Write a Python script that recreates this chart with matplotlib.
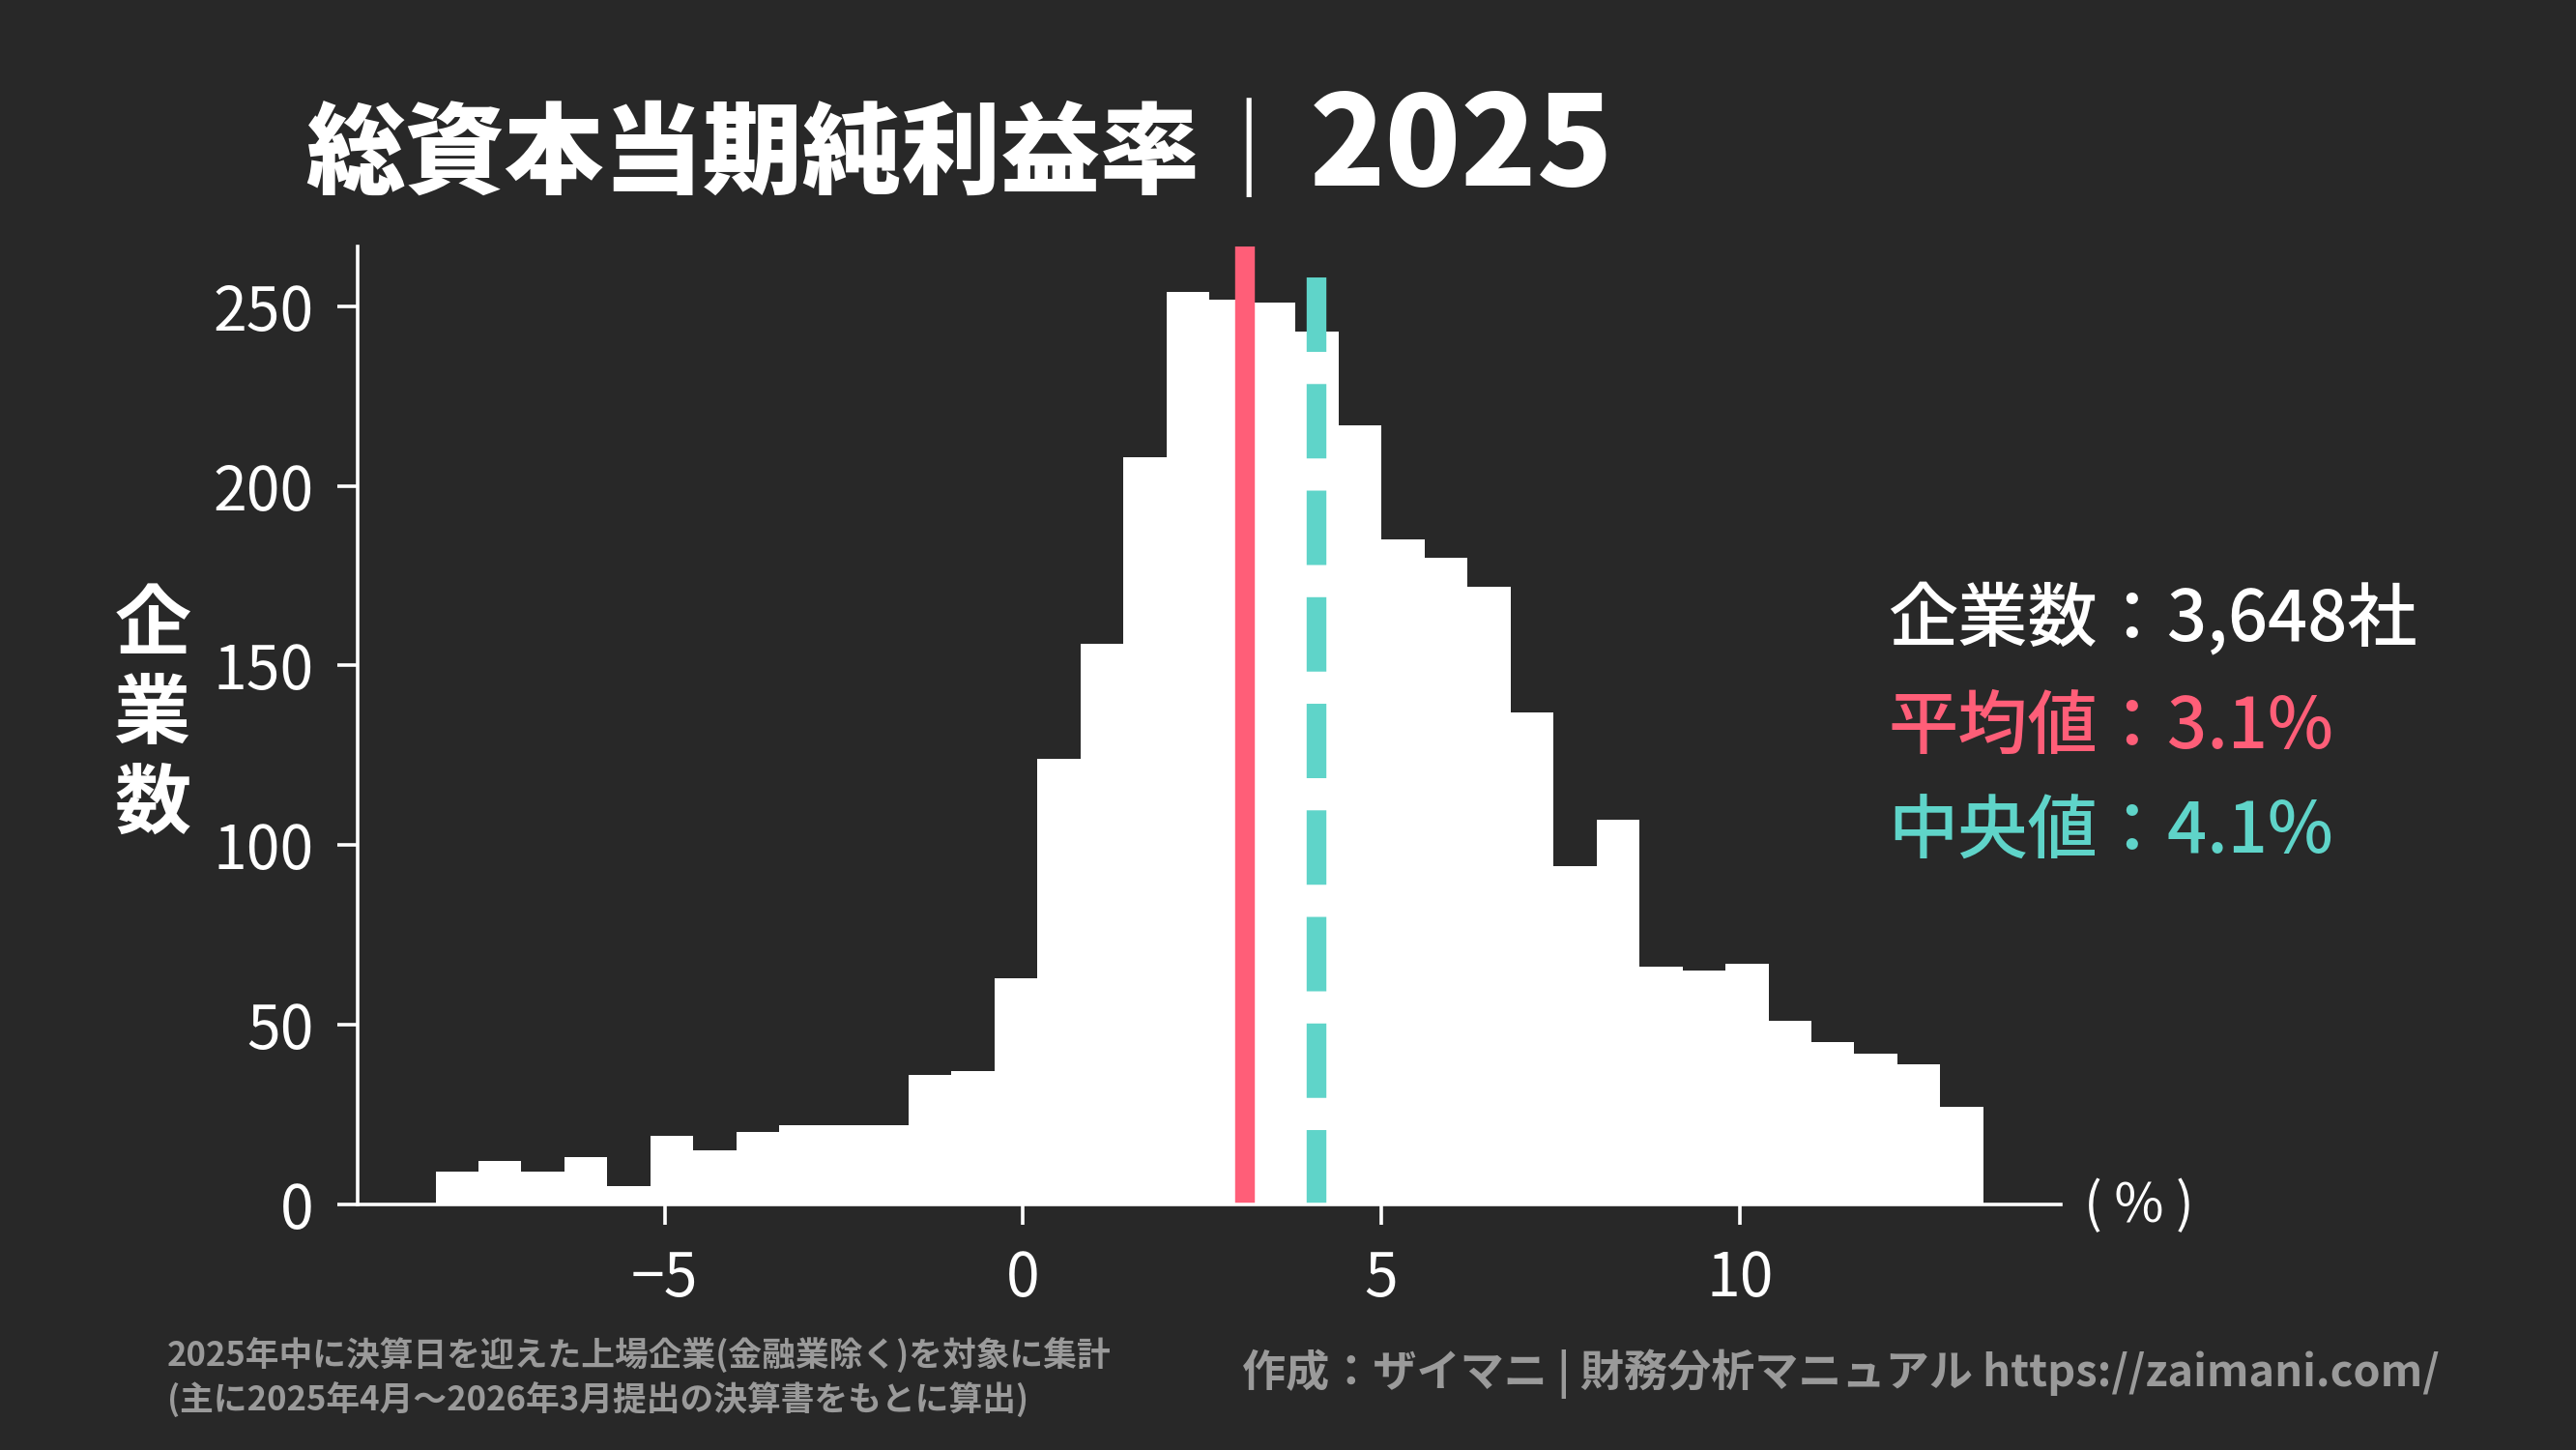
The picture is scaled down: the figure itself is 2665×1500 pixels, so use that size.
import numpy as np
import matplotlib
matplotlib.use('Agg')
import matplotlib.pyplot as plt

plt.rcParams['font.family'] = ['Noto Sans CJK JP', 'DejaVu Sans']

# ヒストグラムの度数 (0.6%刻み, -8.2% 〜 13.4%)
bin_left = -8.2
bin_width = 0.6
counts = [9, 12, 9, 13, 5, 19, 15, 20, 22, 22, 22, 36, 37, 63, 124, 156, 208, 254,
          252, 251, 243, 217, 185, 180, 172, 137, 94, 107, 66, 65, 67, 51, 45, 42, 39, 27]
n_companies = 3648
mean_val = 3.1
median_val = 4.1

x_ticks = [-5, 0, 5, 10]
y_ticks = [0, 50, 100, 150, 200, 250]

bg = '#282828'
red = '#ff5e78'
teal = '#5fd4c9'
gray = '#9a9a9a'

edges = bin_left + bin_width * np.arange(len(counts) + 1)

fig = plt.figure(figsize=(26.65, 15), dpi=100, facecolor=bg)
ax = fig.add_axes([0.139, 0.1696, 0.661, 0.6604], facecolor=bg)

ax.bar(edges[:-1], counts, width=bin_width, align='edge', color='white', linewidth=0)
ax.axvline(mean_val, color=red, lw=14.7)
ax.axvline(median_val, color=teal, lw=14.7, dashes=(3.77, 1.63))

for s in ['top', 'right']:
    ax.spines[s].set_visible(False)
for s in ['left', 'bottom']:
    ax.spines[s].set_color('white')
    ax.spines[s].set_linewidth(2.6)

ax.set_xticks(x_ticks)
ax.set_yticks(y_ticks)
ax.tick_params(colors='white', labelsize=45, length=15, width=2.6)
ax.tick_params(axis='y', pad=18)
ax.tick_params(axis='x', pad=18)

# 単位
fig.text(0.809, 0.168, '( % )', color='white', fontsize=40, ha='left', va='center')

# 縦書きの軸ラベル
fig.text(0.0593, 0.5067, '企\n業\n数', color='white', fontsize=57, fontweight='bold',
         ha='center', va='center', linespacing=1.18)

# タイトル
fig.text(0.1188, 0.872, '総資本当期純利益率｜', color='white', fontsize=74,
         fontweight='black', ha='left', va='baseline')
fig.text(0.5085, 0.872, '2025', color='white', fontsize=93,
         fontweight='black', ha='left', va='baseline')

# 注記
fig.text(0.733, 0.5727, f'企業数：{n_companies:,}社', color='white', fontsize=52,
         fontweight='medium', ha='left', va='center')
fig.text(0.733, 0.498, f'平均値：{mean_val}%', color=red, fontsize=52,
         fontweight='medium', ha='left', va='center')
fig.text(0.733, 0.4255, f'中央値：{median_val}%', color=teal, fontsize=52,
         fontweight='medium', ha='left', va='center')

# 出典
fig.text(0.0648, 0.05, '2025年中に決算日を迎えた上場企業(金融業除く)を対象に集計\n'
         '(主に2025年4月～2026年3月提出の決算書をもとに算出)',
         color=gray, fontsize=25, fontweight='bold', ha='left', va='center', linespacing=1.3)
fig.text(0.947, 0.0527, '作成：ザイマニ | 財務分析マニュアル https://zaimani.com/',
         color=gray, fontsize=32.5, fontweight='bold', ha='right', va='center')

fig.savefig('out.png', dpi=100, facecolor=bg)
